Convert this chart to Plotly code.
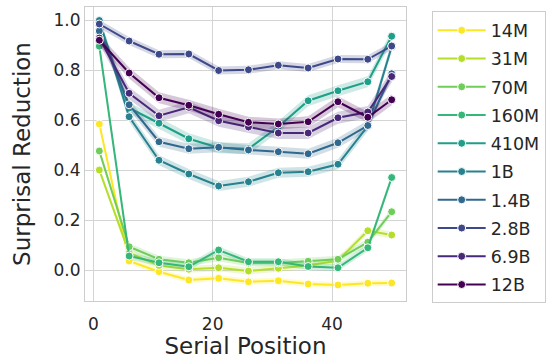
import plotly.graph_objects as go

positions = [1, 6, 11, 16, 21, 26, 31, 36, 41, 46, 50]
models = ["14M", "31M", "70M", "160M", "410M", "1B", "1.4B", "2.8B", "6.9B", "12B"]
colors = ["#fde725", "#b5de2b", "#6ece58", "#35b779", "#1f9e89",
          "#26828e", "#31688e", "#3e4989", "#482878", "#440154"]

s_14M = [0.586, 0.038, -0.005, -0.038, -0.031, -0.045, -0.041, -0.054, -0.058, -0.051, -0.050]
s_31M = [0.402, 0.070, 0.020, 0.005, 0.011, -0.002, 0.009, 0.020, 0.040, 0.159, 0.142]
s_70M = [0.478, 0.095, 0.045, 0.031, 0.051, 0.030, 0.030, 0.037, 0.045, 0.113, 0.235]
s_160M = [0.897, 0.058, 0.031, 0.015, 0.082, 0.035, 0.035, 0.016, 0.011, 0.091, 0.372]
s_410M = [0.990, 0.650, 0.589, 0.527, 0.491, 0.487, 0.575, 0.679, 0.719, 0.755, 0.937]
s_1B = [1.000, 0.615, 0.441, 0.386, 0.338, 0.355, 0.391, 0.395, 0.425, 0.578, 0.895]
s_1_4B = [0.958, 0.663, 0.515, 0.487, 0.493, 0.482, 0.475, 0.467, 0.511, 0.580, 0.787]
s_2_8B = [0.986, 0.918, 0.865, 0.866, 0.800, 0.803, 0.821, 0.810, 0.846, 0.845, 0.898]
s_6_9B = [0.930, 0.709, 0.619, 0.653, 0.599, 0.574, 0.550, 0.550, 0.611, 0.634, 0.776]
s_12B = [0.921, 0.790, 0.691, 0.661, 0.625, 0.593, 0.586, 0.595, 0.675, 0.613, 0.683]

series = [s_14M, s_31M, s_70M, s_160M, s_410M, s_1B, s_1_4B, s_2_8B, s_6_9B, s_12B]
ci_half = [0.012, 0.014, 0.014, 0.014, 0.022, 0.020, 0.020, 0.016, 0.024, 0.022]


def rgba(hexc, a):
    h = hexc.lstrip("#")
    r, g, b = int(h[0:2], 16), int(h[2:4], 16), int(h[4:6], 16)
    return f"rgba({r},{g},{b},{a})"


fig = go.Figure()
for name, col, ys, ci in zip(models, colors, series, ci_half):
    upper = [v + ci for v in ys]
    lower = [v - ci for v in ys]
    fig.add_trace(go.Scatter(
        x=positions + positions[::-1], y=upper + lower[::-1],
        fill="toself", fillcolor=rgba(col, 0.22), line=dict(width=0),
        mode="lines", hoverinfo="skip", showlegend=False, legendgroup=name))
    fig.add_trace(go.Scatter(
        x=positions, y=ys, name=name, mode="lines+markers", legendgroup=name,
        line=dict(color=col, width=2),
        marker=dict(size=8, color=col, line=dict(color="white", width=1))))

axis_common = dict(showline=True, mirror=True, linecolor="#cccccc", linewidth=1.2,
                   showgrid=True, gridcolor="#d4d4d4", gridwidth=1, zeroline=False,
                   ticks="", tickfont=dict(size=17, color="#262626"))

fig.update_layout(
    width=553, height=361,
    margin=dict(l=85, r=145, t=7, b=60),
    paper_bgcolor="white", plot_bgcolor="white",
    font=dict(family="DejaVu Sans", color="#262626"),
    xaxis=dict(range=[-1.4, 52.4], tickvals=[0, 20, 40], ticklabelstandoff=7,
               title=dict(text="Serial Position", font=dict(size=23), standoff=4),
               **axis_common),
    yaxis=dict(range=[-0.122, 1.054], tickvals=[0, 0.2, 0.4, 0.6, 0.8, 1.0],
               tickformat=".1f",
               title=dict(text="Surprisal Reduction", font=dict(size=23), standoff=16),
               **axis_common),
    legend=dict(x=1.08, y=0.985, xanchor="left", yanchor="top",
                bgcolor="white", bordercolor="#cccccc", borderwidth=1,
                font=dict(size=17.5, color="#262626"),
                tracegroupgap=2.5, traceorder="grouped", itemwidth=48),
)

fig.write_html("out.html")
